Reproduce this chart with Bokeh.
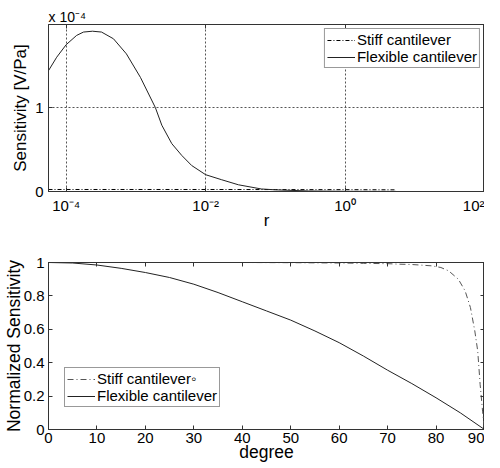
from bokeh.plotting import figure
from bokeh.models import FixedTicker, LinearAxis, LogAxis, Range1d, Legend, LegendItem
from bokeh.layouts import column
from bokeh.embed import file_html
from bokeh.resources import INLINE

FONT = "Liberation Sans"

# ---------------- top panel data (sensitivity in units of 1e-4 V/Pa) ----------------
r_flex = [5.57e-5, 7.3e-5, 1e-4, 1.41e-4, 1.77e-4, 2.38e-4, 3.21e-4, 4.76e-4,
          7.3e-4, 1.16e-3, 1.9e-3, 2.35e-3, 3.27e-3, 4.54e-3, 6.3e-3, 1e-2,
          1.7e-2, 2.95e-2, 6.3e-2, 0.1, 0.3, 1.0, 5.4]
sens_flex = [1.44, 1.60, 1.75, 1.86, 1.90, 1.91, 1.90, 1.82,
             1.64, 1.36, 1.00, 0.79, 0.57, 0.43, 0.31, 0.20,
             0.14, 0.08, 0.03, 0.02, 0.006, 0.002, 0.001]
r_stiff = [5.57e-5, 1e-4, 1e-3, 1e-2, 1e-1, 1.0, 5.4]
sens_stiff = [0.024, 0.024, 0.024, 0.024, 0.023, 0.022, 0.020]

top_x_ticks = [1e-4, 1e-2, 1.0, 100.0]
top_x_labels = ["10⁻⁴", "10⁻²", "10⁰", "10²"]
top_y_ticks = [0, 1]
top_y_labels = ["0", "1"]

# ---------------- bottom panel data ----------------
deg_flex = [0, 5, 10, 15, 20, 25, 30, 35, 40, 45, 50, 55, 60, 65, 70, 75, 80, 85, 90]
norm_flex = [1.0, 0.997, 0.985, 0.965, 0.94, 0.91, 0.87, 0.82, 0.765, 0.71,
             0.655, 0.59, 0.52, 0.44, 0.355, 0.275, 0.19, 0.10, 0.0]
deg_stiff = [0, 10, 20, 30, 40, 50, 60, 65, 70, 72.4, 75, 79.1, 81, 82.6, 84.6,
             86.0, 87.1, 88.0, 88.6, 89.1, 89.6, 90]
norm_stiff = [1.0, 1.0, 1.0, 1.0, 1.0, 0.999, 0.997, 0.995, 0.993, 0.99, 0.988,
              0.98, 0.97, 0.95, 0.90, 0.83, 0.73, 0.59, 0.47, 0.27, 0.11, 0.0]

bot_x_ticks = [0, 10, 20, 30, 40, 50, 60, 70, 80, 90]
bot_y_ticks = [0, 0.2, 0.4, 0.6, 0.8, 1.0]
bot_y_labels = ["0", "0.2", "0.4", "0.6", "0.8", "1"]

AX = "#333333"


def style_axis(ax, label_size="15px"):
    ax.axis_line_color = AX
    ax.major_tick_line_color = AX
    ax.major_tick_in = 4
    ax.major_tick_out = 0
    ax.minor_tick_line_color = None
    ax.major_label_text_font = FONT
    ax.major_label_text_font_size = label_size
    ax.major_label_text_color = "black"
    ax.axis_label_text_font = FONT
    ax.axis_label_text_font_style = "normal"
    ax.axis_label_text_color = "black"


def blank_axis(ax):
    style_axis(ax)
    ax.major_label_text_font_size = "1px"
    ax.major_label_text_alpha = 0
    ax.major_label_standoff = 0


# ---------------- top figure ----------------
p1 = figure(width=484, height=232, x_axis_type="log",
            x_range=Range1d(5.57e-5, 100), y_range=Range1d(0, 1.99),
            output_backend="svg", toolbar_location=None,
            min_border_left=42, min_border_right=0, min_border_top=24,
            min_border_bottom=41)
p1.outline_line_color = AX
p1.background_fill_color = "white"
p1.title.text = "x 10⁻⁴"
p1.title.align = "left"
p1.title.text_font = FONT
p1.title.text_font_size = "14px"
p1.title.text_font_style = "normal"
p1.title.text_color = "black"
p1.title.standoff = 0
p1.title.offset = 0

l_stiff1 = p1.line(r_stiff, sens_stiff, line_color="black", line_width=1,
                   line_dash="4 2 1 2")
l_flex1 = p1.line(r_flex, sens_flex, line_color="#222222", line_width=1)

xa = p1.xaxis[0]
xa.ticker = FixedTicker(ticks=top_x_ticks, minor_ticks=[])
xa.major_label_overrides = {t: s for t, s in zip(top_x_ticks, top_x_labels)}
style_axis(xa)
xa.axis_label = "r"
xa.axis_label_text_font_size = "17px"
xa.axis_label_standoff = -6
xa.major_label_standoff = 5

ya = p1.yaxis[0]
ya.ticker = FixedTicker(ticks=top_y_ticks, minor_ticks=[])
ya.major_label_overrides = {t: s for t, s in zip(top_y_ticks, top_y_labels)}
style_axis(ya)
ya.axis_label = "Sensitivity [V/Pa]"
ya.axis_label_text_font_size = "17px"
ya.axis_label_standoff = 2
ya.major_label_standoff = 5

top_ax = LogAxis(ticker=FixedTicker(ticks=top_x_ticks, minor_ticks=[]))
blank_axis(top_ax)
p1.add_layout(top_ax, "above")
right_ax = LinearAxis(ticker=FixedTicker(ticks=top_y_ticks, minor_ticks=[]))
blank_axis(right_ax)
p1.add_layout(right_ax, "right")

p1.xgrid.ticker = FixedTicker(ticks=top_x_ticks[:-1], minor_ticks=[])
p1.ygrid.ticker = FixedTicker(ticks=[1], minor_ticks=[])
for g in (p1.xgrid[0], p1.ygrid[0]):
    g.grid_line_color = "#555555"
    g.grid_line_dash = "2 2"
    g.grid_line_width = 1

leg1 = Legend(items=[LegendItem(label="Stiff cantilever", renderers=[l_stiff1]),
                     LegendItem(label="Flexible cantilever", renderers=[l_flex1])],
              location="top_right")
p1.add_layout(leg1)

# ---------------- bottom figure ----------------
p2 = figure(width=484, height=234, x_range=Range1d(0, 90), y_range=Range1d(0, 1),
            output_backend="svg", toolbar_location=None,
            min_border_left=42, min_border_right=0, min_border_top=30,
            min_border_bottom=37)
p2.outline_line_color = AX
p2.grid.visible = False

l_stiff2 = p2.line(deg_stiff, norm_stiff, line_color="#555555", line_width=1,
                   line_dash="6 3 1 3")
l_flex2 = p2.line(deg_flex, norm_flex, line_color="#222222", line_width=1)

xb = p2.xaxis[0]
xb.ticker = FixedTicker(ticks=bot_x_ticks, minor_ticks=[])
style_axis(xb)
xb.axis_label = "degree"
xb.axis_label_text_font_size = "17.5px"
xb.axis_label_standoff = -4
xb.major_label_standoff = 3

yb = p2.yaxis[0]
yb.ticker = FixedTicker(ticks=bot_y_ticks, minor_ticks=[])
yb.major_label_overrides = {t: s for t, s in zip(bot_y_ticks, bot_y_labels)}
style_axis(yb)
yb.axis_label = "Normalized Sensitivity"
yb.axis_label_text_font_size = "17.5px"
yb.axis_label_standoff = -3
yb.major_label_standoff = 4

top_ax2 = LinearAxis(ticker=FixedTicker(ticks=bot_x_ticks, minor_ticks=[]))
blank_axis(top_ax2)
p2.add_layout(top_ax2, "above")
right_ax2 = LinearAxis(ticker=FixedTicker(ticks=bot_y_ticks, minor_ticks=[]))
blank_axis(right_ax2)
p2.add_layout(right_ax2, "right")

leg2 = Legend(items=[LegendItem(label="Stiff cantilever◦", renderers=[l_stiff2]),
                     LegendItem(label="Flexible cantilever", renderers=[l_flex2])],
              location=(16, 22))
p2.add_layout(leg2)

for leg in (leg1, leg2):
    leg.label_text_font = FONT
    leg.label_text_font_size = "15px"
    leg.label_text_color = "black"
    leg.border_line_color = AX
    leg.border_line_width = 1
    leg.background_fill_color = "white"
    leg.background_fill_alpha = 1
    leg.glyph_width = 28
    leg.glyph_height = 16
    leg.label_height = 16
    leg.label_standoff = 2
    leg.spacing = 0
    leg.padding = 2
    leg.margin = 4

layout = column(p1, p2, spacing=0)
open("out.html", "w").write(file_html(layout, INLINE))
